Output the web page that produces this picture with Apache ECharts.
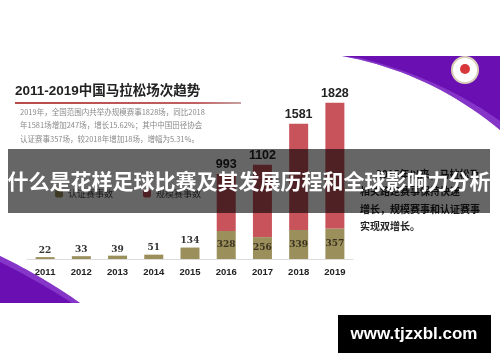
<!DOCTYPE html>
<html><head><meta charset="utf-8">
<script src="https://cdn.jsdelivr.net/npm/echarts@6/dist/echarts.min.js"></script>
<style>html,body{margin:0;padding:0;background:#fff}#c{width:500px;height:362px}</style>
</head><body><div id="c"></div>
<script>
const years = ['2011','2012','2013','2014','2015','2016','2017','2018','2019'];
const certified = [22, 33, 39, 51, 134, 328, 256, 339, 357];
const totals = [null, null, null, null, null, 993, 1102, 1581, 1828];
const legendNames = ['认证赛事数', '规模赛事数'];
const titleText = '2011-2019中国马拉松场次趋势';
const noteLines = [
  '2019年，全国范围内共举办规模赛事1828场，同比2018',
  '年1581场增加247场，增长15.62%；其中中国田径协会',
  '认证赛事357场，较2018年增加18场，增幅为5.31%。'
];
const sideLines = ['2015年以来，马拉松及', '相关路跑赛事保持快速', '增长，规模赛事和认证赛事', '实现双增长。'];
const bannerText = '什么是花样足球比赛及其发展历程和全球影响力分析';
const siteText = 'www.tjzxbl.com';

const chart = echarts.init(document.getElementById('c'), null, {renderer: 'canvas'});
const olive = '#9b8f5b', red = '#c9535a';
const oliveData = certified.map((v, i) => ({
  value: v,
  label: totals[i] == null
    ? {show: true, position: 'top', distance: 2, fontSize: 9, fontWeight: 'bold', fontFamily: 'DejaVu Serif', color: '#333'}
    : {show: true, position: 'inside', fontSize: 9, fontWeight: 'bold', fontFamily: 'DejaVu Serif', color: '#3b3320'}
}));
const redData = totals.map((t, i) => t == null ? null : t - certified[i]);

// decorative curves (quadratic bezier sampled to points)
function quad(p0, p1, p2, n) {
  const pts = [];
  for (let k = 0; k <= n; k++) {
    const t = k / n, u = 1 - t;
    pts.push([u*u*p0[0] + 2*u*t*p1[0] + t*t*p2[0], u*u*p0[1] + 2*u*t*p1[1] + t*t*p2[1]]);
  }
  return pts;
}
const swooshTop = [[500,130], ...quad([500,130],[430,72],[342,56],20).slice(1), [500,56]];
const swooshBand = [...quad([500,130],[430,72],[342,56],20), ...quad([360,58],[440,78],[500,121],20)];
const cornerLow = [[0,303], [0,256], ...quad([0,256],[45,278],[80,303],16).slice(1)];
const cornerBand = [...quad([0,256],[45,278],[80,303],16), ...quad([72,303],[40,282],[0,262],16)];

const noteEls = noteLines.map((s, i) => ({
  type: 'text', left: 20, top: 108 + i * 13.5, z: 10,
  style: {text: s, font: '7.5px "Noto Sans CJK SC"', fill: '#8a8a8a'}
}));
const sideX = [376, 360, 360, 360];
const sideEls = sideLines.map((s, i) => ({
  type: 'text', left: sideX[i], top: 169 + i * 17.5, z: 10,
  style: {text: s, font: 'bold 10px "Noto Sans CJK SC"', fill: '#222'}
}));

chart.setOption({
  animation: false,
  backgroundColor: '#fff',
  grid: {left: 27, right: 147, top: 88, bottom: 103},
  legend: {
    show: true, left: 50, top: 184, itemWidth: 8, itemHeight: 8, itemGap: 30,
    data: legendNames,
    textStyle: {fontSize: 9, color: '#444', fontFamily: 'Noto Sans CJK SC'}
  },
  xAxis: {
    type: 'category', data: years,
    axisLine: {lineStyle: {color: '#dcdcdc', width: 1}},
    axisTick: {show: false},
    axisLabel: {color: '#222', fontWeight: 'bold', fontSize: 9.5, fontFamily: 'Liberation Sans', margin: 8}
  },
  yAxis: {type: 'value', min: 0, max: 2000, show: false, splitLine: {show: false}},
  series: [
    {name: legendNames[0], type: 'bar', stack: 's', barWidth: 19, itemStyle: {color: olive}, data: oliveData},
    {name: legendNames[1], type: 'bar', stack: 's', barWidth: 19, itemStyle: {color: red}, data: redData,
     label: {show: true, position: 'top', distance: 3, fontSize: 12.5, fontWeight: 'bold', fontFamily: 'Liberation Sans', color: '#222',
       formatter: p => totals[p.dataIndex]}}
  ],
  graphic: [
    {type: 'polygon', z: 5, shape: {points: swooshTop}, style: {fill: '#6a10b3'}},
    {type: 'polygon', z: 6, shape: {points: swooshBand}, style: {fill: '#9a55d8', opacity: 0.55}},
    {type: 'circle', z: 7, shape: {cx: 465, cy: 70, r: 13}, style: {fill: '#fff', stroke: '#d8cfb8', lineWidth: 2}},
    {type: 'circle', z: 8, shape: {cx: 465, cy: 69, r: 5}, style: {fill: '#d8383a'}},
    {type: 'polygon', z: 5, shape: {points: cornerLow}, style: {fill: '#6a10b3'}},
    {type: 'polygon', z: 6, shape: {points: cornerBand}, style: {fill: '#9a55d8', opacity: 0.55}},
    {type: 'text', left: 15, top: 85, z: 10, style: {text: titleText, font: 'bold 13.5px "Liberation Sans","Noto Sans CJK SC"', fill: '#222'}},
    {type: 'rect', z: 10, shape: {x: 15, y: 102, width: 226, height: 2},
     style: {fill: {type: 'linear', x: 0, y: 0, x2: 1, y2: 0, colorStops: [{offset: 0, color: '#b84a4a'}, {offset: 0.8, color: '#c06060'}, {offset: 1, color: '#c8a0a0'}]}}},
    ...noteEls,
    ...sideEls,
    {type: 'rect', z: 100, shape: {x: 8, y: 149, width: 482, height: 64}, style: {fill: 'rgba(0,0,0,0.6)'}},
    {type: 'text', z: 101, x: 249, y: 181, style: {text: bannerText, font: 'bold 21px "Noto Sans CJK SC"', fill: '#fff', textAlign: 'center', textVerticalAlign: 'middle'}},
    {type: 'rect', z: 100, shape: {x: 338, y: 315, width: 153, height: 38}, style: {fill: '#000'}},
    {type: 'text', z: 101, x: 414, y: 334, style: {text: siteText, font: 'bold 17px "Liberation Sans"', fill: '#fff', textAlign: 'center', textVerticalAlign: 'middle'}}
  ]
});
</script>
</body></html>
